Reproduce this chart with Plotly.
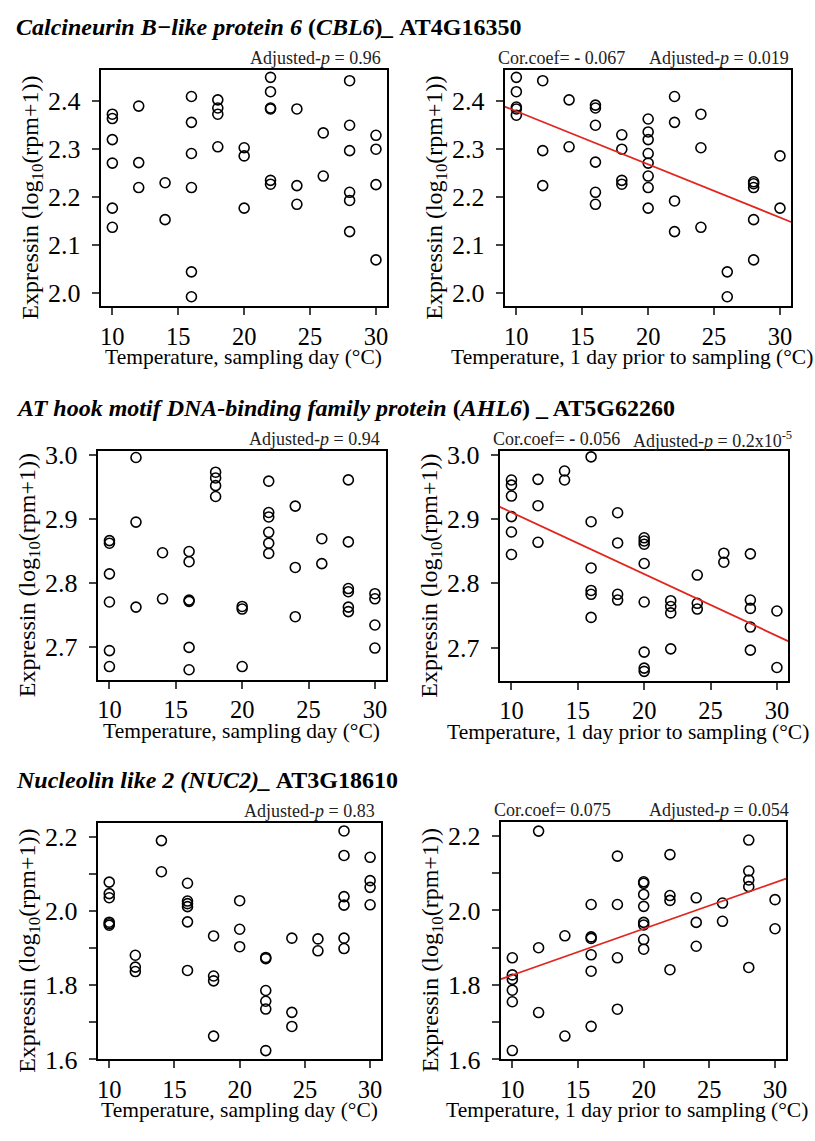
import numpy as np
import plotly.graph_objects as go

W, H = 815, 1141

# CBL6 - temperature on sampling day
cbl6_day_temp = [10, 10, 10, 10, 10, 10, 12, 12, 12, 14, 14, 16, 16, 16, 16, 16, 16,
                 18, 18, 18, 18, 20, 20, 20, 22, 22, 22, 22, 22, 22, 24, 24, 24, 26, 26,
                 28, 28, 28, 28, 28, 28, 30, 30, 30, 30]
cbl6_day_expr = [2.373, 2.364, 2.320, 2.271, 2.177, 2.137, 2.390, 2.272, 2.220, 2.230, 2.153,
                 2.410, 2.356, 2.291, 2.220, 2.044, 1.992, 2.403, 2.386, 2.373, 2.305,
                 2.303, 2.286, 2.177, 2.450, 2.420, 2.386, 2.384, 2.235, 2.227,
                 2.384, 2.224, 2.185, 2.334, 2.244, 2.443, 2.350, 2.297, 2.210, 2.193, 2.128,
                 2.329, 2.300, 2.226, 2.069]

# CBL6 - temperature 1 day prior
cbl6_prior_temp = [10, 10, 10, 10, 10, 12, 12, 12, 14, 14, 16, 16, 16, 16, 16, 16,
                   18, 18, 18, 18, 20, 20, 20, 20, 20, 20, 20, 20, 22, 22, 22, 22,
                   24, 24, 24, 26, 26, 28, 28, 28, 28, 28, 30, 30]
cbl6_prior_expr = [2.450, 2.420, 2.388, 2.384, 2.371, 2.443, 2.297, 2.224, 2.403, 2.305,
                   2.392, 2.386, 2.350, 2.273, 2.210, 2.185, 2.330, 2.300, 2.235, 2.227,
                   2.363, 2.336, 2.320, 2.291, 2.271, 2.244, 2.220, 2.177,
                   2.410, 2.356, 2.192, 2.128, 2.373, 2.303, 2.137, 2.044, 1.992,
                   2.232, 2.228, 2.220, 2.153, 2.069, 2.286, 2.177]

# AHL6 - sampling day
ahl6_day_temp = [10, 10, 10, 10, 10, 10, 12, 12, 12, 14, 14, 16, 16, 16, 16, 16, 16,
                 18, 18, 18, 18, 20, 20, 20, 22, 22, 22, 22, 22, 22, 24, 24, 24, 26, 26,
                 28, 28, 28, 28, 28, 28, 30, 30, 30, 30]
ahl6_day_expr = [2.866, 2.862, 2.814, 2.770, 2.694, 2.669, 2.996, 2.895, 2.762, 2.847, 2.775,
                 2.849, 2.833, 2.773, 2.771, 2.699, 2.664, 2.973, 2.964, 2.952, 2.935,
                 2.763, 2.759, 2.669, 2.959, 2.910, 2.903, 2.879, 2.862, 2.846,
                 2.920, 2.824, 2.747, 2.869, 2.830, 2.961, 2.864, 2.791, 2.786, 2.762, 2.755,
                 2.783, 2.775, 2.734, 2.698]

# AHL6 - 1 day prior
ahl6_prior_temp = [10, 10, 10, 10, 10, 10, 12, 12, 12, 14, 14, 16, 16, 16, 16, 16, 16,
                   18, 18, 18, 18, 20, 20, 20, 20, 20, 20, 20, 20, 22, 22, 22, 22,
                   24, 24, 24, 26, 26, 28, 28, 28, 28, 28, 30, 30]
ahl6_prior_expr = [2.961, 2.953, 2.936, 2.904, 2.880, 2.845, 2.962, 2.921, 2.864, 2.975, 2.961,
                   2.997, 2.896, 2.824, 2.789, 2.783, 2.747, 2.910, 2.863, 2.783, 2.774,
                   2.871, 2.866, 2.861, 2.831, 2.771, 2.693, 2.668, 2.663,
                   2.773, 2.764, 2.754, 2.698, 2.813, 2.769, 2.760, 2.847, 2.833,
                   2.846, 2.774, 2.761, 2.732, 2.696, 2.757, 2.669]

# NUC2 - sampling day
nuc2_day_temp = [10, 10, 10, 10, 10, 10, 12, 12, 12, 14, 14, 16, 16, 16, 16, 16, 16,
                 18, 18, 18, 18, 20, 20, 20, 22, 22, 22, 22, 22, 22, 24, 24, 24, 26, 26,
                 28, 28, 28, 28, 28, 28, 30, 30, 30, 30]
nuc2_day_expr = [2.078, 2.047, 2.036, 1.970, 1.966, 1.962, 1.881, 1.849, 1.837, 2.190, 2.106,
                 2.075, 2.027, 2.020, 2.012, 1.971, 1.840, 1.933, 1.825, 1.812, 1.663,
                 2.028, 1.951, 1.904, 1.875, 1.872, 1.786, 1.757, 1.736, 1.624,
                 1.927, 1.727, 1.689, 1.925, 1.893, 2.216, 2.150, 2.039, 2.016, 1.927, 1.899,
                 2.145, 2.082, 2.064, 2.017]

# NUC2 - 1 day prior
nuc2_prior_temp = [10, 10, 10, 10, 10, 10, 12, 12, 12, 14, 14, 16, 16, 16, 16, 16, 16,
                   18, 18, 18, 18, 20, 20, 20, 20, 20, 20, 20, 20, 22, 22, 22, 22,
                   24, 24, 24, 26, 26, 28, 28, 28, 28, 28, 30, 30]
nuc2_prior_expr = [1.873, 1.827, 1.815, 1.786, 1.755, 1.624, 2.213, 1.900, 1.726, 1.932, 1.663,
                   2.016, 1.929, 1.925, 1.881, 1.837, 1.689, 2.146, 2.016, 1.873, 1.735,
                   2.077, 2.073, 2.043, 2.011, 1.968, 1.961, 1.922, 1.896,
                   2.150, 2.040, 2.027, 1.841, 2.034, 1.968, 1.904, 2.020, 1.971,
                   2.189, 2.106, 2.082, 2.064, 1.847, 2.029, 1.951]

gene_titles = [
    "<b><i>Calcineurin B\u2212like protein 6 </i>(<i>CBL6</i>)<i>_</i> AT4G16350</b>",
    "<b><i>AT hook motif DNA-binding family protein </i>(<i>AHL6</i>) _ AT5G62260</b>",
    "<b><i>Nucleolin like 2 (NUC2)_</i> AT3G18610</b>",
]
adj_p_day = ["0.96", "0.94", "0.83"]
cor_coef = ["<b>-</b> 0.067", "<b>-</b> 0.056", "0.075"]
adj_p_prior = ["0.019", "0.2x10<sup>-5</sup>", "0.054"]

x_title_day = "Temperature, sampling day (\u00b0C)"
x_title_prior = "Temperature, 1 day prior to sampling (\u00b0C)"
y_title = "Expressin (log<sub>10</sub>(rpm+1))"

y_ticks = [
    [2.0, 2.1, 2.2, 2.3, 2.4],
    [2.7, 2.8, 2.9, 3.0],
    [1.6, 1.7, 1.8, 1.9, 2.0, 2.1, 2.2],
]
y_ticktext = [
    ["2.0", "2.1", "2.2", "2.3", "2.4"],
    ["2.7", "2.8", "2.9", "3.0"],
    ["1.6", " ", "1.8", " ", "2.0", " ", "2.2"],
]
y_ranges = [[1.972, 2.466], [2.648, 3.006], [1.600, 2.238]]
x_range = [9.12, 30.84]

panels = [
    (cbl6_day_temp, cbl6_day_expr, False),
    (cbl6_prior_temp, cbl6_prior_expr, True),
    (ahl6_day_temp, ahl6_day_expr, False),
    (ahl6_prior_temp, ahl6_prior_expr, True),
    (nuc2_day_temp, nuc2_day_expr, False),
    (nuc2_prior_temp, nuc2_prior_expr, True),
]

# plot boxes in pixels: left, right, top, bottom
boxes = [
    (100, 387, 61, 303), (505, 792, 61, 303),
    (97, 386, 451, 685), (500, 789, 451, 686),
    (97, 381, 831, 1073), (501, 787, 830, 1073),
]
title_y = [17, 407, 787]
# right edge of the "Adjusted-p" text for the right-hand panels
adj_right = [792, 795, 792]


def px(v):
    return v / W


def py(v):
    return 1 - v / H


FONT = "Liberation Serif"
fig = go.Figure()
annotations = []
layout = {}

for i, (temp, expr, fit) in enumerate(panels):
    n = i + 1
    row = i // 2
    left, right, top, bottom = boxes[i]
    xa = "x" if n == 1 else f"x{n}"
    ya = "y" if n == 1 else f"y{n}"

    fig.add_trace(go.Scatter(
        x=temp, y=expr, mode="markers", xaxis=xa, yaxis=ya, showlegend=False,
        marker=dict(symbol="circle-open", size=10, color="black", line=dict(width=1.6, color="black")),
    ))
    if fit:
        slope, intercept = np.polyfit(temp, expr, 1)
        xs = np.array(x_range)
        fig.add_trace(go.Scatter(
            x=xs, y=slope * xs + intercept, mode="lines", xaxis=xa, yaxis=ya,
            showlegend=False, line=dict(color="#e0261f", width=1.8),
        ))

    layout["xaxis" if n == 1 else f"xaxis{n}"] = dict(
        domain=[px(left), px(right)], anchor=ya, range=x_range,
        tickvals=[10, 15, 20, 25, 30], ticks="outside", ticklen=7, tickwidth=1.5,
        showline=True, linewidth=2, linecolor="black", mirror=True,
        showgrid=False, zeroline=False, ticklabelstandoff=0,
        tickfont=dict(family=FONT, size=24.5, color="black"),
    )
    layout["yaxis" if n == 1 else f"yaxis{n}"] = dict(
        domain=[py(bottom), py(top)], anchor=xa, range=y_ranges[row],
        tickvals=y_ticks[row], ticktext=y_ticktext[row],
        ticks="outside", ticklen=7, tickwidth=1.5,
        showline=True, linewidth=2, linecolor="black", mirror=True,
        showgrid=False, zeroline=False, ticklabelstandoff=6,
        tickfont=dict(family=FONT, size=26, color="black"),
    )

    # axis titles
    annotations.append(dict(
        text=x_title_prior if fit else x_title_day, xref="paper", yref="paper",
        x=px((left + right) / 2 - (16 if fit else 0)), y=py(bottom + 52),
        xanchor="center", yanchor="middle", showarrow=False,
        font=dict(family=FONT, size=21.5, color="black"),
    ))
    annotations.append(dict(
        text=y_title, xref="paper", yref="paper", textangle=-90,
        x=px(left - 69), y=py((top + bottom) / 2 + 10),
        xanchor="center", yanchor="middle", showarrow=False,
        font=dict(family=FONT, size=24, color="black"),
    ))

    # statistics above the panel
    stat_font = dict(family=FONT, size=18, color="#222222")
    if fit:
        annotations.append(dict(
            text=f"Cor.coef= {cor_coef[row]}", xref="paper", yref="paper",
            x=px(left - 9), y=py(top - 12), xanchor="left", yanchor="middle",
            showarrow=False, font=stat_font,
        ))
        annotations.append(dict(
            text=f"Adjusted-<i>p</i> = {adj_p_prior[row]}", xref="paper", yref="paper",
            x=px(adj_right[row]), y=py(top - 12), xanchor="right", yanchor="middle",
            showarrow=False, font=stat_font,
        ))
    else:
        annotations.append(dict(
            text=f"Adjusted-<i>p</i> = {adj_p_day[row]}", xref="paper", yref="paper",
            x=px(right - 4), y=py(top - 12), xanchor="right", yanchor="middle",
            showarrow=False, font=stat_font,
        ))

for row, t in enumerate(gene_titles):
    annotations.append(dict(
        text=t, xref="paper", yref="paper", x=px(13), y=py(title_y[row]),
        xanchor="left", yanchor="middle", showarrow=False,
        font=dict(family=FONT, size=24, color="black"),
    ))

fig.update_layout(
    width=W, height=H, margin=dict(l=0, r=0, t=0, b=0),
    plot_bgcolor="white", paper_bgcolor="white",
    annotations=annotations, **layout,
)

# page body has a default 8px margin; drop it so the figure fills the window
fig.write_html("out.html", config={"displayModeBar": False},
               post_script="document.body.style.margin='0';")
